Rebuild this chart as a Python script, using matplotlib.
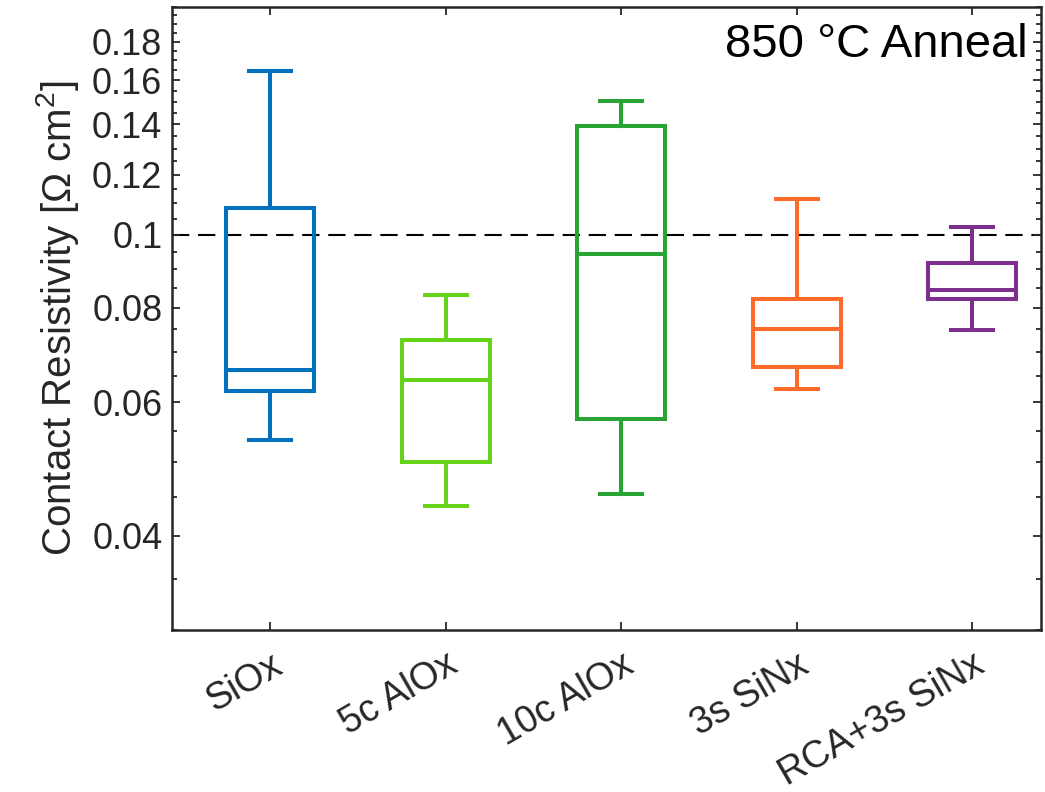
import matplotlib
matplotlib.use("Agg")
import matplotlib.pyplot as plt
from matplotlib.ticker import FixedLocator, FixedFormatter, NullFormatter
import numpy as np

categories = ["SiOx", "5c AlOx", "10c AlOx", "3s SiNx", "RCA+3s SiNx"]
whisker_low = [0.0535, 0.0438, 0.0454, 0.0626, 0.0747]
q1 = [0.0621, 0.0501, 0.0570, 0.0668, 0.0821]
median = [0.0662, 0.0642, 0.0943, 0.0751, 0.0845]
q3 = [0.1086, 0.0725, 0.1393, 0.0822, 0.0917]
whisker_high = [0.1645, 0.0832, 0.1504, 0.1115, 0.1023]
colors = ["#0072BD", "#66D31A", "#29A334", "#FF6A2A", "#7E2F8E"]
ref_level = 0.1
major_ticks = [0.04, 0.06, 0.08, 0.1, 0.12, 0.14, 0.16, 0.18]
major_labels = ["0.04", "0.06", "0.08", "0.1", "0.12", "0.14", "0.16", "0.18"]

plt.rcParams['font.family'] = ['Liberation Sans', 'DejaVu Sans']
plt.rcParams['mathtext.fontset'] = 'custom'
plt.rcParams['mathtext.rm'] = 'Liberation Sans'

fig = plt.figure(figsize=(10.45, 7.92), dpi=100)
ax = fig.add_axes([0.1646, 0.2045, 0.996 - 0.1646, 0.991 - 0.2045])

positions = np.arange(1, len(categories) + 1)
for i, c in enumerate(colors):
    stats = [dict(med=median[i], q1=q1[i], q3=q3[i], whislo=whisker_low[i],
                  whishi=whisker_high[i], fliers=[])]
    lp = dict(color=c, linewidth=2.9, solid_capstyle='projecting', solid_joinstyle='miter')
    ax.bxp(stats, positions=[positions[i]], widths=0.5, capwidths=0.24,
           showfliers=False, boxprops=lp, whiskerprops=lp, capprops=lp,
           medianprops=lp, manage_ticks=False)

ax.axhline(ref_level, color='black', linewidth=1.5, dashes=(8.3, 4.2), zorder=1)

ax.set_yscale('log')
ax.set_ylim(0.03, 0.2)
ax.set_xlim(0.44, 5.39)
ax.yaxis.set_major_locator(FixedLocator(major_ticks))
ax.yaxis.set_major_formatter(FixedFormatter(major_labels))
minor = [round(v, 3) for v in np.arange(0.03, 0.2001, 0.005)]
minor = [v for v in minor if all(abs(v - m) > 1e-6 for m in major_ticks)]
ax.yaxis.set_minor_locator(FixedLocator(minor))
ax.yaxis.set_minor_formatter(NullFormatter())

ax.set_xticks(positions)
ax.set_xticklabels(categories, rotation=30, ha='right', va='top', rotation_mode='anchor')

dark = '#262626'
ax.tick_params(axis='both', which='both', direction='in', top=True, right=True, colors=dark, width=1.3)
ax.tick_params(axis='both', which='major', length=6)
ax.tick_params(axis='y', which='minor', length=3.6)
ax.tick_params(axis='y', which='major', labelsize=26, pad=7)
ax.tick_params(axis='x', which='major', labelsize=27, pad=12)
ax.tick_params(axis='x', which='minor', bottom=False, top=False)
for s in ax.spines.values():
    s.set_linewidth(1.8)
    s.set_color(dark)

ax.set_ylabel("Contact Resistivity [Ω cm$^2$]", fontsize=29, color=dark, labelpad=8)
ax.text(0.985, 0.975, "850 °C Anneal", transform=ax.transAxes, ha='right', va='top',
        fontsize=34, color='black')

fig.savefig("out.png", dpi=100)
